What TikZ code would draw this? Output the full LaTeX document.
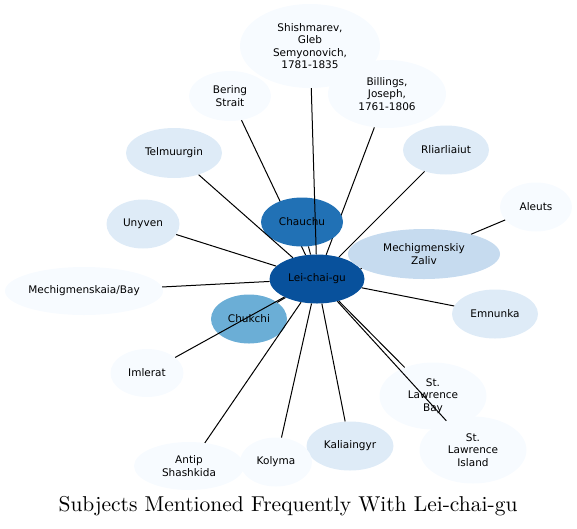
\documentclass[tikz,border=0pt]{standalone}
\usepackage{fontspec}
\usepackage{tikz}
\usetikzlibrary{shapes.geometric}
\newfontfamily\subjfont{DejaVu Sans}
\definecolor{blueA}{HTML}{08519C}
\definecolor{blueB}{HTML}{2171B5}
\definecolor{blueC}{HTML}{6BAED6}
\definecolor{blueD}{HTML}{C6DBEF}
\definecolor{blueE}{HTML}{DEEBF7}
\definecolor{blueF}{HTML}{F7FBFF}

\begin{document}
\begin{tikzpicture}[x=1pt,y=-1pt,
		subj/.style={ellipse,inner sep=0pt,align=center,text=black,
			font=\subjfont\fontsize{10.5}{12.3}\selectfont},
		sz/.style 2 args={minimum width=#1pt,minimum height=#2pt}]
			
			\useasboundingbox (0,0) rectangle (577,528);
			
			\node[subj,sz={95}{49},fill=blueA] (1) at (317,279) {Lei-chai-gu};
			\node[subj,sz={140}{84},fill=blueF] (2) at (310,46) {Shishmarev,\\Gleb\\Semyonovich,\\1781-1835};
			\node[subj,sz={82}{50},fill=blueF] (3) at (230,96) {Bering\\Strait};
			\node[subj,sz={118}{68},fill=blueF] (4) at (387,94) {Billings,\\Joseph,\\1761-1806};
			\node[subj,sz={96}{50},fill=blueE] (5) at (174,153) {Telmuurgin};
			\node[subj,sz={86}{49},fill=blueE] (6) at (446,150) {Rliarliaiut};
			\node[subj,sz={72}{49},fill=blueF] (7) at (536,207) {Aleuts};
			\node[subj,sz={73}{49},fill=blueE] (8) at (143,224) {Unyven};
			\node[subj,sz={152}{50},fill=blueD] (9) at (424,254) {Mechigmenskiy\\Zaliv};
			\node[subj,sz={158}{48},fill=blueF] (10) at (84,291) {Mechigmenskaia/Bay};
			\node[subj,sz={86}{49},fill=blueE] (11) at (495,314) {Emnunka};
			\node[subj,sz={76}{49},fill=blueC] (12) at (249,319) {Chukchi};
			\node[subj,sz={73}{48},fill=blueF] (13) at (147,373) {Imlerat};
			\node[subj,sz={107}{67},fill=blueF] (14) at (433,396) {St.\\Lawrence\\Bay};
			\node[subj,sz={107}{67},fill=blueF] (15) at (473,450) {St.\\Lawrence\\Island};
			\node[subj,sz={87}{49},fill=blueE] (16) at (350,446) {Kaliaingyr};
			\node[subj,sz={72}{49},fill=blueF] (17) at (276,462) {Kolyma};
			\node[subj,sz={110}{48},fill=blueF] (18) at (189,466) {Antip\\Shashkida};
			
			% these two run under Chauchu
			\draw[line width=1pt] (3)--(1);
			\draw[line width=1pt] (4)--(1);
			
			\node[subj,sz={82}{49},fill=blueB] (19) at (302,222) {Chauchu};
			
			\draw[line width=1pt] (19)--(1);
			\draw[line width=1pt] (2)--(1);
			\draw[line width=1pt] (5)--(1);
			\draw[line width=1pt] (6)--(1);
			\draw[line width=1pt] (8)--(1);
			\draw[line width=1pt] (9)--(1);
			\draw[line width=1pt] (7)--(9);
			\draw[line width=1pt] (10)--(1);
			\draw[line width=1pt] (11)--(1);
			\draw[line width=1pt] (12)--(1);
			\draw[line width=1pt] (13)--(1);
			\draw[line width=1pt] (14)--(1);
			\draw[line width=1pt] (15)--(1);
			\draw[line width=1pt] (16)--(1);
			\draw[line width=1pt] (17)--(1);
			\draw[line width=1pt] (18)--(1);
			
			\node (title) at (288,506) {\scalebox{2.15}{Subjects Mentioned Frequently With Lei-chai-gu}};
			
		\end{tikzpicture}
\end{document}
